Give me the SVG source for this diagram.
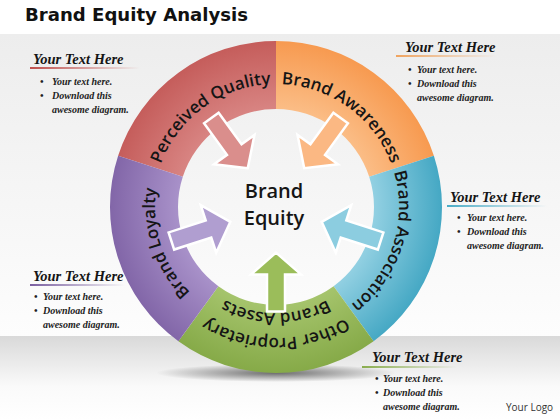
<svg xmlns="http://www.w3.org/2000/svg" xmlns:xlink="http://www.w3.org/1999/xlink" width="560" height="420" viewBox="0 0 560 420">
<style>
.title{font-family:"DejaVu Sans",sans-serif;font-weight:bold;font-size:17px;fill:#111}
.hd{font-family:"Liberation Serif",serif;font-style:italic;font-weight:bold;font-size:14.5px;fill:#151515}
.bt{font-family:"Liberation Serif",serif;font-style:italic;font-weight:bold;font-size:10px;fill:#222}
.lbl{font-family:"Open Sans",sans-serif;font-weight:600;font-size:17px;fill:#151515}
.ctr{font-family:"Open Sans",sans-serif;font-weight:600;font-size:20px;fill:#151515}
.logo{font-family:"Open Sans",sans-serif;font-size:10px;fill:#333}
.arrow{stroke:#fff;stroke-width:2.5;stroke-linejoin:miter}
</style>
<defs>
<linearGradient id="bgMain" x1="0" y1="0" x2="0" y2="1"><stop offset="0" stop-color="#ededed"/><stop offset="1" stop-color="#fdfdfd"/></linearGradient>
<linearGradient id="bgBot" x1="0" y1="0" x2="0" y2="1"><stop offset="0" stop-color="#d9d9d9"/><stop offset="0.6" stop-color="#fafafa"/><stop offset="1" stop-color="#ffffff"/></linearGradient>
<radialGradient id="shadow" cx="0.5" cy="0.5" r="0.5"><stop offset="0" stop-color="#000" stop-opacity="0.55"/><stop offset="1" stop-color="#000" stop-opacity="0"/></radialGradient>
<radialGradient id="gRed" gradientUnits="userSpaceOnUse" cx="276" cy="207" r="166"><stop offset="0.59" stop-color="#d88482"/><stop offset="1" stop-color="#c55d5b"/></radialGradient>
<radialGradient id="gOrange" gradientUnits="userSpaceOnUse" cx="276" cy="207" r="166"><stop offset="0.59" stop-color="#fbbd86"/><stop offset="1" stop-color="#f79a50"/></radialGradient>
<radialGradient id="gBlue" gradientUnits="userSpaceOnUse" cx="276" cy="207" r="166"><stop offset="0.59" stop-color="#92d0e2"/><stop offset="1" stop-color="#45a8c4"/></radialGradient>
<radialGradient id="gGreen" gradientUnits="userSpaceOnUse" cx="276" cy="207" r="166"><stop offset="0.59" stop-color="#a5c46c"/><stop offset="1" stop-color="#86aa48"/></radialGradient>
<radialGradient id="gPurple" gradientUnits="userSpaceOnUse" cx="276" cy="207" r="166"><stop offset="0.59" stop-color="#a891c9"/><stop offset="1" stop-color="#8266a8"/></radialGradient>
<linearGradient id="uRed" x1="0" y1="0" x2="1" y2="0"><stop offset="0" stop-color="#c0504d"/><stop offset="1" stop-color="#c0504d" stop-opacity="0"/></linearGradient>
<linearGradient id="uOrange" x1="0" y1="0" x2="1" y2="0"><stop offset="0" stop-color="#f0a460"/><stop offset="1" stop-color="#f0a460" stop-opacity="0"/></linearGradient>
<linearGradient id="uBlue" x1="0" y1="0" x2="1" y2="0"><stop offset="0" stop-color="#4bacc6"/><stop offset="1" stop-color="#4bacc6" stop-opacity="0"/></linearGradient>
<linearGradient id="uPurple" x1="0" y1="0" x2="1" y2="0"><stop offset="0" stop-color="#7a5fa0"/><stop offset="1" stop-color="#7a5fa0" stop-opacity="0"/></linearGradient>
<linearGradient id="uGreen" x1="0" y1="0" x2="1" y2="0"><stop offset="0" stop-color="#8aad4e"/><stop offset="1" stop-color="#8aad4e" stop-opacity="0"/></linearGradient>
<path id="arr" d="M0,48 L25,71 L9,71 L9,110 L-9,110 L-9,71 L-25,71 Z"/>
<path id="tpRed" d="M165.45,260.92 A123,123 0 0 1 361.44,118.52"/>
<path id="tpOrange" d="M190.56,118.52 A123,123 0 0 1 386.55,260.92"/>
<path id="tpBlue" d="M333.74,98.40 A123,123 0 0 1 258.88,328.80"/>
<path id="tpPurple" d="M292.84,326.82 A121,121 0 0 1 219.19,100.16"/>
<path id="tpGreen1" d="M405.01,229.75 A131,131 0 0 1 146.99,229.75"/>
<path id="tpGreen2" d="M380.39,225.41 A106,106 0 0 1 171.61,225.41"/>
</defs>

<g id="background">
<rect x="0" y="0" width="560" height="420" fill="#ffffff"/>
<rect x="0" y="34" width="560" height="302" fill="url(#bgMain)"/>
<rect x="0" y="336" width="560" height="84" fill="url(#bgBot)"/>
<ellipse cx="276" cy="373" rx="120" ry="9" fill="url(#shadow)"/>
</g>

<text class="title" x="25" y="21" textLength="223" lengthAdjust="spacingAndGlyphs">Brand Equity Analysis</text>

<g id="sector-perceived-quality">
<path d="M118.12,155.70 A166,166 0 0 1 276,41 L276,109 A98,98 0 0 0 182.80,176.72 Z" fill="url(#gRed)"/>
<use href="#arr" class="arrow" fill="#da8e8c" transform="translate(276,207) rotate(144)"/>
<text class="lbl"><textPath href="#tpRed" startOffset="50%" text-anchor="middle">Perceived Quality</textPath></text>
</g>

<g id="sector-brand-awareness">
<path d="M276,41 A166,166 0 0 1 433.88,155.70 L369.20,176.72 A98,98 0 0 0 276,109 Z" fill="url(#gOrange)"/>
<use href="#arr" class="arrow" fill="#fbb883" transform="translate(276,207) rotate(216)"/>
<text class="lbl"><textPath href="#tpOrange" startOffset="50%" text-anchor="middle">Brand Awareness</textPath></text>
</g>

<g id="sector-brand-association">
<path d="M433.88,155.70 A166,166 0 0 1 373.57,341.30 L333.60,286.28 A98,98 0 0 0 369.20,176.72 Z" fill="url(#gBlue)"/>
<use href="#arr" class="arrow" fill="#8ccde0" transform="translate(276,207) rotate(288)"/>
<text class="lbl"><textPath href="#tpBlue" startOffset="50%" text-anchor="middle">Brand Association</textPath></text>
</g>

<g id="sector-other-assets">
<path d="M373.57,341.30 A166,166 0 0 1 178.43,341.30 L218.40,286.28 A98,98 0 0 0 333.60,286.28 Z" fill="url(#gGreen)"/>
<use href="#arr" class="arrow" fill="#9bbd5a" transform="translate(276,207) scale(1,0.95)"/>
<text class="lbl"><textPath href="#tpGreen1" startOffset="50%" text-anchor="middle">Other Proprietary</textPath></text>
<text class="lbl"><textPath href="#tpGreen2" startOffset="50%" text-anchor="middle">Brand Assets</textPath></text>
</g>

<g id="sector-brand-loyalty">
<path d="M178.43,341.30 A166,166 0 0 1 118.12,155.70 L182.80,176.72 A98,98 0 0 0 218.40,286.28 Z" fill="url(#gPurple)"/>
<use href="#arr" class="arrow" fill="#b09ed0" transform="translate(276,207) rotate(72)"/>
<text class="lbl"><textPath href="#tpPurple" startOffset="50%" text-anchor="middle">Brand Loyalty</textPath></text>
</g>

<g id="center">
<text class="ctr" x="274" y="198" text-anchor="middle">Brand</text>
<text class="ctr" x="274" y="225" text-anchor="middle">Equity</text>
</g>

<g id="note-top-left">
<rect x="30" y="67" width="110" height="2" fill="url(#uRed)"/>
<text class="hd" x="33" y="64">Your Text Here</text>
<text class="bt" x="40" y="85">•</text>
<text class="bt" x="52" y="85">Your text here.</text>
<text class="bt" x="40" y="99">•</text>
<text class="bt" x="52" y="99">Download  this</text>
<text class="bt" x="52" y="113">awesome diagram.</text>
</g>

<g id="note-top-right">
<rect x="396" y="55" width="100" height="2" fill="url(#uOrange)"/>
<text class="hd" x="405" y="52">Your Text Here</text>
<text class="bt" x="408" y="73">•</text>
<text class="bt" x="417" y="73">Your text here.</text>
<text class="bt" x="408" y="87">•</text>
<text class="bt" x="417" y="87">Download  this</text>
<text class="bt" x="417" y="101">awesome diagram.</text>
</g>

<g id="note-right">
<rect x="447" y="205" width="100" height="2" fill="url(#uBlue)"/>
<text class="hd" x="450" y="202">Your Text Here</text>
<text class="bt" x="457" y="221">•</text>
<text class="bt" x="467" y="221">Your text here.</text>
<text class="bt" x="457" y="235">•</text>
<text class="bt" x="467" y="235">Download  this</text>
<text class="bt" x="467" y="249">awesome diagram.</text>
</g>

<g id="note-bottom-left">
<rect x="30" y="284" width="95" height="2" fill="url(#uPurple)"/>
<text class="hd" x="33" y="281">Your Text Here</text>
<text class="bt" x="34" y="300">•</text>
<text class="bt" x="43" y="300">Your text here.</text>
<text class="bt" x="34" y="314">•</text>
<text class="bt" x="43" y="314">Download this</text>
<text class="bt" x="43" y="328">awesome diagram.</text>
</g>

<g id="note-bottom-right">
<rect x="362" y="366" width="95" height="2" fill="url(#uGreen)"/>
<text class="hd" x="372" y="362">Your Text Here</text>
<text class="bt" x="375" y="382">•</text>
<text class="bt" x="383" y="382">Your text here.</text>
<text class="bt" x="375" y="396">•</text>
<text class="bt" x="383" y="396">Download this</text>
<text class="bt" x="383" y="410">awesome diagram.</text>
</g>

<text class="logo" x="506" y="411">Your Logo</text>
</svg>
